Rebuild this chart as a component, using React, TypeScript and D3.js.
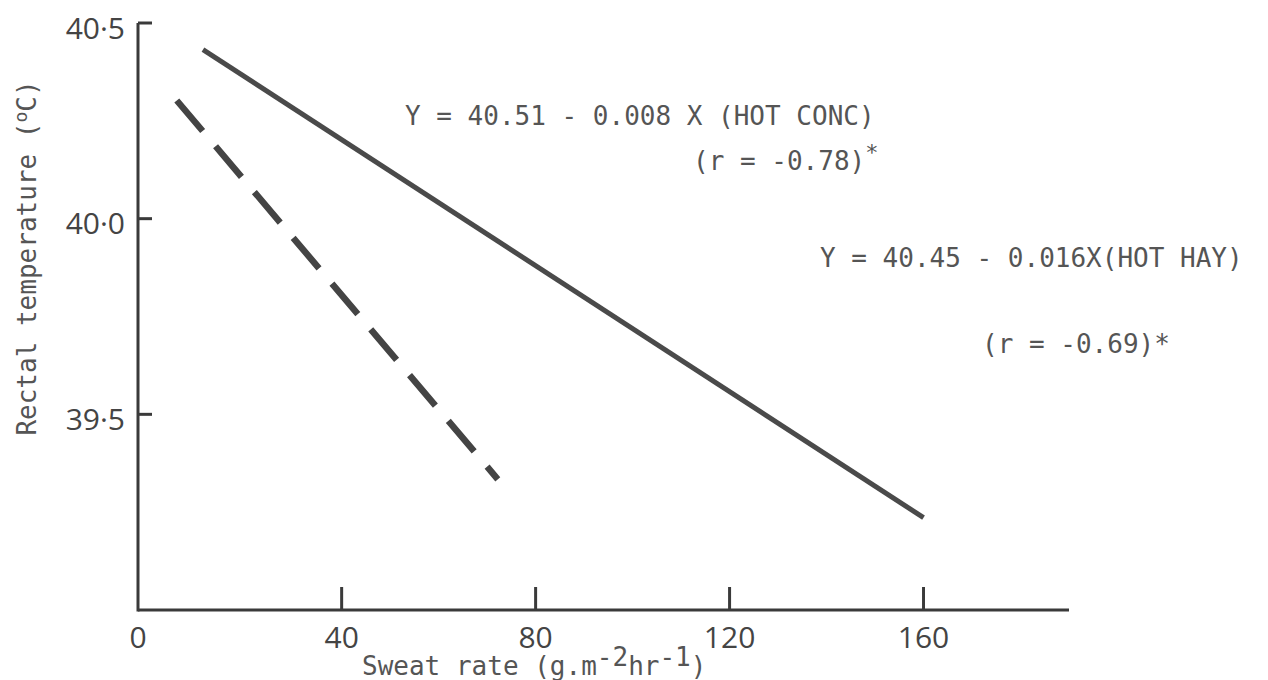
import React from "react";
import * as d3 from "d3";

// ---- data ----
const xTickValues = [40, 80, 120, 160];
const xLabelValues = [0, 40, 80, 120, 160];
const xLabelTexts = ["0", "40", "80", "120", "160"];
const yTickValues = [39.5, 40.0, 40.5];
const yTickTexts = ["39·5", "40·0", "40·5"];

// HOT CONC regression line (solid)
const hotConcX = [11.4, 160];
const hotConcY = [40.432, 39.236];
// HOT HAY regression line (dashed)
const hotHayX = [6.0, 72.2];
const hotHayY = [40.302, 39.334];

const W = 1268;
const H = 680;

export default function App() {
  const x = d3.scaleLinear().domain([-2, 190]).range([138, 1069]);
  const y = d3.scaleLinear().domain([39.0, 40.5]).range([610, 23]);

  const line = d3
    .line<[number, number]>()
    .x((d) => x(d[0]))
    .y((d) => y(d[1]));

  const concPts = hotConcX.map((v, i) => [v, hotConcY[i]] as [number, number]);
  const hayPts = hotHayX.map((v, i) => [v, hotHayY[i]] as [number, number]);

  const axisX0 = x(-2);
  const axisY0 = y(39.0);
  const axisColor = "#3a3a3a";
  const mono = "'DejaVu Sans Mono', monospace";
  const sans = "'Open Sans', 'Liberation Sans', sans-serif";
  const textColor = "#555";

  return (
    <svg
      width={W}
      height={H}
      style={{ position: "absolute", left: 0, top: 0, background: "#fff" }}
    >
      <rect x={0} y={0} width={W} height={H} fill="#fff" />
      {/* axes */}
      <line x1={axisX0} y1={y(40.5)} x2={axisX0} y2={axisY0 + 1.5} stroke={axisColor} strokeWidth={3} />
      <line x1={axisX0} y1={axisY0} x2={x(190)} y2={axisY0} stroke={axisColor} strokeWidth={3} />
      {/* y ticks */}
      {yTickValues.map((v) => (
        <line key={"yt" + v} x1={axisX0} x2={axisX0 + 14} y1={y(v)} y2={y(v)} stroke={axisColor} strokeWidth={3} />
      ))}
      {yTickValues.map((v, i) => (
        <text
          key={"yl" + v}
          x={125}
          y={y(v) + 4}
          textAnchor="end"
          dominantBaseline="central"
          fontFamily={sans}
          fontSize={30}
          fill="#444"
        >
          {yTickTexts[i]}
        </text>
      ))}
      {/* x ticks */}
      {xTickValues.map((v) => (
        <line key={"xt" + v} x1={x(v)} x2={x(v)} y1={axisY0} y2={axisY0 - 23} stroke={axisColor} strokeWidth={3} />
      ))}
      {xLabelValues.map((v, i) => (
        <text
          key={"xl" + v}
          x={v === 0 ? axisX0 : x(v)}
          y={648}
          textAnchor="middle"
          fontFamily={sans}
          fontSize={30}
          fill="#444"
        >
          {xLabelTexts[i]}
        </text>
      ))}
      {/* axis titles */}
      <text x={362} y={675} fontFamily={mono} fontSize={26} fill={textColor}>
        Sweat rate (g.m
        <tspan dy={-9}>-2</tspan>
        <tspan dy={9}>hr</tspan>
        <tspan dy={-9}>-1</tspan>
        <tspan dy={9}>)</tspan>
      </text>
      <text
        transform="translate(36,258) rotate(-90)"
        textAnchor="middle"
        fontFamily={mono}
        fontSize={26}
        fill={textColor}
      >
        Rectal temperature (
        <tspan fontSize={18} dy={-9}>o</tspan>
        <tspan dy={9}>C)</tspan>
      </text>
      {/* regression lines */}
      <path d={line(concPts) || ""} fill="none" stroke="#4a4a4a" strokeWidth={5} />
      <path
        d={line(hayPts) || ""}
        fill="none"
        stroke="#444"
        strokeWidth={6.5}
        strokeDasharray="40 20"
      />
      {/* equations */}
      <text x={405} y={125} fontFamily={mono} fontSize={26} fill={textColor} xmlSpace="preserve">
        Y = 40.51 - 0.008 X (HOT CONC)
      </text>
      <text x={693} y={170} fontFamily={mono} fontSize={26} fill={textColor} xmlSpace="preserve">
        (r = -0.78)
        <tspan fontSize={22} dy={-10}>*</tspan>
      </text>
      <text x={820} y={267} fontFamily={mono} fontSize={26} fill={textColor} xmlSpace="preserve">
        Y = 40.45 - 0.016X(HOT HAY)
      </text>
      <text x={982} y={353} fontFamily={mono} fontSize={26} fill={textColor} xmlSpace="preserve">
        (r = -0.69)*
      </text>
    </svg>
  );
}
